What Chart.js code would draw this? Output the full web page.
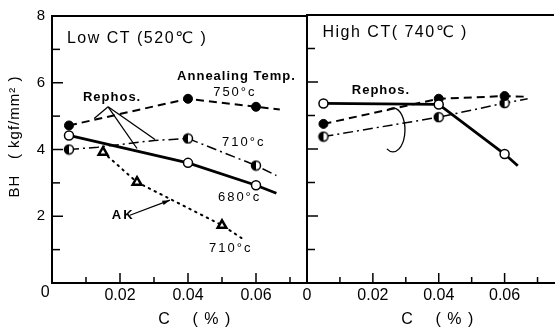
<!DOCTYPE html>
<html>
<head>
<meta charset="utf-8">
<script src="https://cdn.jsdelivr.net/npm/chart.js@4.4.1/dist/chart.umd.min.js"></script>
<style>
  html, body { margin: 0; padding: 0; background: #fff; }
  body { width: 556px; height: 329px; overflow: hidden; position: relative; }
  canvas { position: absolute; top: 0; }
  #lowCanvas { left: 0; z-index: 2; }
  #highCanvas { left: 296px; z-index: 1; }
</style>
</head>
<body>
<canvas id="lowCanvas" width="340" height="329"></canvas>
<canvas id="highCanvas" width="264" height="329"></canvas>
<script>
// values: C (%) against BH (kgf/mm2)
const markC = [0.005, 0.04, 0.06];
const cTicks = [0, 0.02, 0.04, 0.06];
const bhTicks = [0, 2, 4, 6, 8];

// Low CT (520 C)
const low750 = [4.72, 5.52, 5.28];
const low710 = [4.0, 4.33, 3.52];
const low680 = [4.42, 3.6, 2.93];
const low750LineC = [0.005, 0.04, 0.06, 0.067];
const low750LineBH = [4.72, 5.52, 5.28, 5.2];
const low710LineC = [0.005, 0.0135, 0.03, 0.04, 0.06, 0.066];
const low710LineBH = [4.0, 4.07, 4.27, 4.33, 3.52, 3.22];
const low680LineC = [0.005, 0.04, 0.06, 0.066];
const low680LineBH = [4.42, 3.6, 2.93, 2.69];
const akC = [0.015, 0.025, 0.05];
const akBH = [3.92, 3.02, 1.73];
const akLineC = [0.015, 0.025, 0.05, 0.056];
const akLineBH = [3.92, 3.02, 1.73, 1.33];

// High CT (740 C)
const high750 = [4.75, 5.5, 5.58];
const high710 = [4.37, 4.95, 5.37];
const high680 = [5.36, 5.33, 3.85];
const high750LineC = [0.005, 0.04, 0.06, 0.067];
const high750LineBH = [4.75, 5.5, 5.58, 5.56];
const high710LineC = [0.005, 0.04, 0.06, 0.067];
const high710LineBH = [4.37, 4.95, 5.37, 5.5];
const high680LineC = [0.005, 0.04, 0.06, 0.064];
const high680LineBH = [5.36, 5.33, 3.85, 3.5];

const FONT = "'Liberation Sans', 'DejaVu Sans', sans-serif";
Chart.defaults.font.family = FONT;
Chart.defaults.color = '#000';

const pts = (xs, ys) => xs.map((c, i) => ({ x: c, y: ys[i] }));

// half filled circle marker
function halfCircle() {
  const cv = document.createElement('canvas');
  cv.width = 12; cv.height = 12;
  const g = cv.getContext('2d');
  g.fillStyle = '#fff';
  g.beginPath(); g.arc(6, 6, 4.5, 0, Math.PI * 2); g.fill();
  g.fillStyle = '#000';
  g.beginPath(); g.arc(6, 6, 4.5, Math.PI / 2, Math.PI * 1.5); g.closePath(); g.fill();
  g.strokeStyle = '#000'; g.lineWidth = 1.5;
  g.beginPath(); g.arc(6, 6, 4.5, 0, Math.PI * 2); g.stroke();
  return cv;
}
const halfMark = halfCircle();

const styles = {
  s750: { width: 2, dash: [8, 5] },
  s710: { width: 1.5, dash: [10, 4, 2, 4] },
  s680: { width: 2.8, dash: [] },
  ak: { width: 2, dash: [1.5, 5] }
};
const marks = {
  filled: { pointStyle: 'circle', pointRadius: 4.5, pointBackgroundColor: '#000', pointBorderWidth: 1 },
  open: { pointStyle: 'circle', pointRadius: 4.5, pointBackgroundColor: '#fff', pointBorderWidth: 1.5 },
  half: { pointStyle: halfMark, pointRadius: 5 },
  tri: { pointStyle: 'triangle', pointRadius: 5, pointBackgroundColor: '#fff', pointBorderWidth: 2.5 }
};

function lineSet(xs, ys, st) {
  return {
    data: pts(xs, ys), showLine: true, pointRadius: 0, order: 2,
    borderColor: '#000', borderWidth: st.width, borderDash: st.dash,
    borderCapStyle: st === styles.ak ? 'round' : 'butt'
  };
}
function markSet(xs, ys, mk) {
  return Object.assign({ data: pts(xs, ys), showLine: false, order: 1, pointBorderColor: '#000' }, mk);
}

// frame: top border, inward ticks, labels and leader lines
const panelFrame = {
  id: 'panelFrame',
  afterDraw(chart, args, opts) {
    const { ctx, chartArea: a, scales: { x, y } } = chart;
    ctx.save();
    ctx.strokeStyle = '#000';
    ctx.lineWidth = 2;
    ctx.beginPath(); ctx.moveTo(a.left, a.top); ctx.lineTo(a.right, a.top); ctx.stroke();

    ctx.lineWidth = 1.5;
    for (let i = 1; i * 0.01 < x.max - 1e-9; i++) {
      const px = x.getPixelForValue(i * 0.01);
      const len = i % 2 === 0 ? 10 : 6;
      ctx.beginPath(); ctx.moveTo(px, a.bottom); ctx.lineTo(px, a.bottom - len); ctx.stroke();
    }
    for (let i = 1; i < 8; i++) {
      const py = y.getPixelForValue(i);
      const len = i % 2 === 0 ? 11 : 8;
      ctx.beginPath(); ctx.moveTo(a.left, py); ctx.lineTo(a.left + len, py); ctx.stroke();
    }

    // leader lines
    ctx.lineWidth = 1.3;
    (opts.leaders || []).forEach(l => {
      const x0 = x.getPixelForValue(l.from[0]), y0 = y.getPixelForValue(l.from[1]);
      const x1 = x.getPixelForValue(l.to[0]), y1 = y.getPixelForValue(l.to[1]);
      ctx.beginPath(); ctx.moveTo(x0, y0); ctx.lineTo(x1, y1); ctx.stroke();
      if (l.arrow) {
        const ang = Math.atan2(y1 - y0, x1 - x0);
        ctx.fillStyle = '#000';
        ctx.beginPath();
        ctx.moveTo(x1, y1);
        ctx.lineTo(x1 - 8 * Math.cos(ang - 0.3), y1 - 8 * Math.sin(ang - 0.3));
        ctx.lineTo(x1 - 8 * Math.cos(ang + 0.3), y1 - 8 * Math.sin(ang + 0.3));
        ctx.closePath(); ctx.fill();
      }
    });
    if (opts.brace) {
      const b = opts.brace;
      ctx.beginPath();
      ctx.ellipse(x.getPixelForValue(b.c), y.getPixelForValue(b.bh), b.rx, b.ry, 0, -2.1, 2.1);
      ctx.stroke();
    }

    // texts
    ctx.fillStyle = '#000';
    ctx.textBaseline = 'middle';
    (opts.labels || []).forEach(t => {
      ctx.save();
      ctx.font = t.font;
      ctx.letterSpacing = (t.spacing || 0) + 'px';
      ctx.textAlign = t.align || 'left';
      ctx.translate(x.getPixelForValue(t.c), y.getPixelForValue(t.bh));
      if (t.rotate) ctx.rotate(t.rotate);
      ctx.fillText(t.text, 0, 0);
      ctx.restore();
    });
    ctx.restore();
  }
};

function panelOptions(cfg) {
  return {
    responsive: false,
    animation: false,
    layout: { padding: cfg.padding },
    plugins: { legend: { display: false }, tooltip: { enabled: false }, panelFrame: cfg.frame },
    scales: {
      x: {
        type: 'linear', min: 0, max: 0.075,
        grid: { drawOnChartArea: false, drawTicks: false },
        border: { color: '#000', width: 2 },
        afterBuildTicks: s => { s.ticks = cTicks.map(v => ({ value: v })); },
        afterFit: s => { s.height = 46; },
        ticks: {
          padding: 3, font: { size: 16 }, maxRotation: 0,
          callback: v => v === 0 ? cfg.zeroLabel : v.toFixed(2)
        }
      },
      y: {
        type: 'linear', min: 0, max: 8,
        grid: { drawOnChartArea: false, drawTicks: false },
        border: { color: '#000', width: 2 },
        afterBuildTicks: s => { s.ticks = bhTicks.map(v => ({ value: v })); },
        afterFit: s => { s.width = cfg.yWidth; },
        ticks: {
          display: cfg.yLabels, padding: 7, font: { size: 15 },
          callback: v => v === 0 ? '' : String(v)
        }
      }
    }
  };
}

const small = "bold 13px " + FONT;
const temp = "13px " + FONT;

new Chart(document.getElementById('lowCanvas'), {
  type: 'scatter',
  plugins: [panelFrame],
  data: {
    datasets: [
      markSet(markC, low750, marks.filled),
      markSet(markC, low710, marks.half),
      markSet(markC, low680, marks.open),
      markSet(akC, akBH, marks.tri),
      lineSet(low750LineC, low750LineBH, styles.s750),
      lineSet(low710LineC, low710LineBH, styles.s710),
      lineSet(low680LineC, low680LineBH, styles.s680),
      lineSet(akLineC, akLineBH, styles.ak)
    ]
  },
  options: panelOptions({
    padding: { left: 0, top: 15, right: 33, bottom: 0 },
    yWidth: 52, yLabels: true, zeroLabel: '',
    frame: {
      leaders: [
        { from: [0.0165, 5.28], to: [0.0124, 4.93] },
        { from: [0.0165, 5.28], to: [0.025, 4.03] },
        { from: [0.0165, 5.28], to: [0.0303, 4.3] },
        { from: [0.0229, 2.03], to: [0.0347, 2.48], arrow: true }
      ],
      labels: [
        { text: 'Low CT (520\u2103 )', c: 0.0044, bh: 7.31, font: "16px " + FONT, spacing: 1.5 },
        { text: 'Annealing Temp.', c: 0.0368, bh: 6.18, font: small, spacing: 1 },
        { text: '750\u00b0c', c: 0.0474, bh: 5.7, font: temp, spacing: 2 },
        { text: 'Rephos.', c: 0.0091, bh: 5.55, font: small, spacing: 1 },
        { text: '710\u00b0c', c: 0.05, bh: 4.21, font: temp, spacing: 2 },
        { text: '680\u00b0c', c: 0.0488, bh: 2.57, font: temp, spacing: 2 },
        { text: 'AK', c: 0.0176, bh: 2.03, font: small, spacing: 2 },
        { text: '710\u00b0c', c: 0.0462, bh: 1.04, font: temp, spacing: 2 },
        { text: '0', c: -0.002, bh: -0.3, font: "16px " + FONT, align: 'center' },
        { text: 'C    ( % )', c: 0.042, bh: -1.1, font: "16px " + FONT, align: 'center', spacing: 1 },
        { text: 'BH   ( kgf/mm\u00b2 )', c: -0.0109, bh: 4.39, font: "15px " + FONT, align: 'center', rotate: -Math.PI / 2, spacing: 1 }
      ]
    }
  })
});

new Chart(document.getElementById('highCanvas'), {
  type: 'scatter',
  plugins: [panelFrame],
  data: {
    datasets: [
      markSet(markC, high680, marks.open),
      markSet(markC, high750, marks.filled),
      markSet(markC, high710, marks.half),
      lineSet(high750LineC, high750LineBH, styles.s750),
      lineSet(high710LineC, high710LineBH, styles.s710),
      lineSet(high680LineC, high680LineBH, styles.s680)
    ]
  },
  options: panelOptions({
    padding: { left: 11, top: 15, right: 0, bottom: 0 },
    yWidth: 0, yLabels: false, zeroLabel: '0',
    frame: {
      brace: { c: 0.0261, bh: 4.57, rx: 12, ry: 22 },
      labels: [
        { text: 'High CT( 740\u2103 )', c: 0.0047, bh: 7.46, font: "16px " + FONT, spacing: 1.5 },
        { text: 'Rephos.', c: 0.0136, bh: 5.76, font: small, spacing: 1 },
        { text: 'C    ( % )', c: 0.0397, bh: -1.1, font: "16px " + FONT, align: 'center', spacing: 1 }
      ]
    }
  })
});
</script>
</body>
</html>
